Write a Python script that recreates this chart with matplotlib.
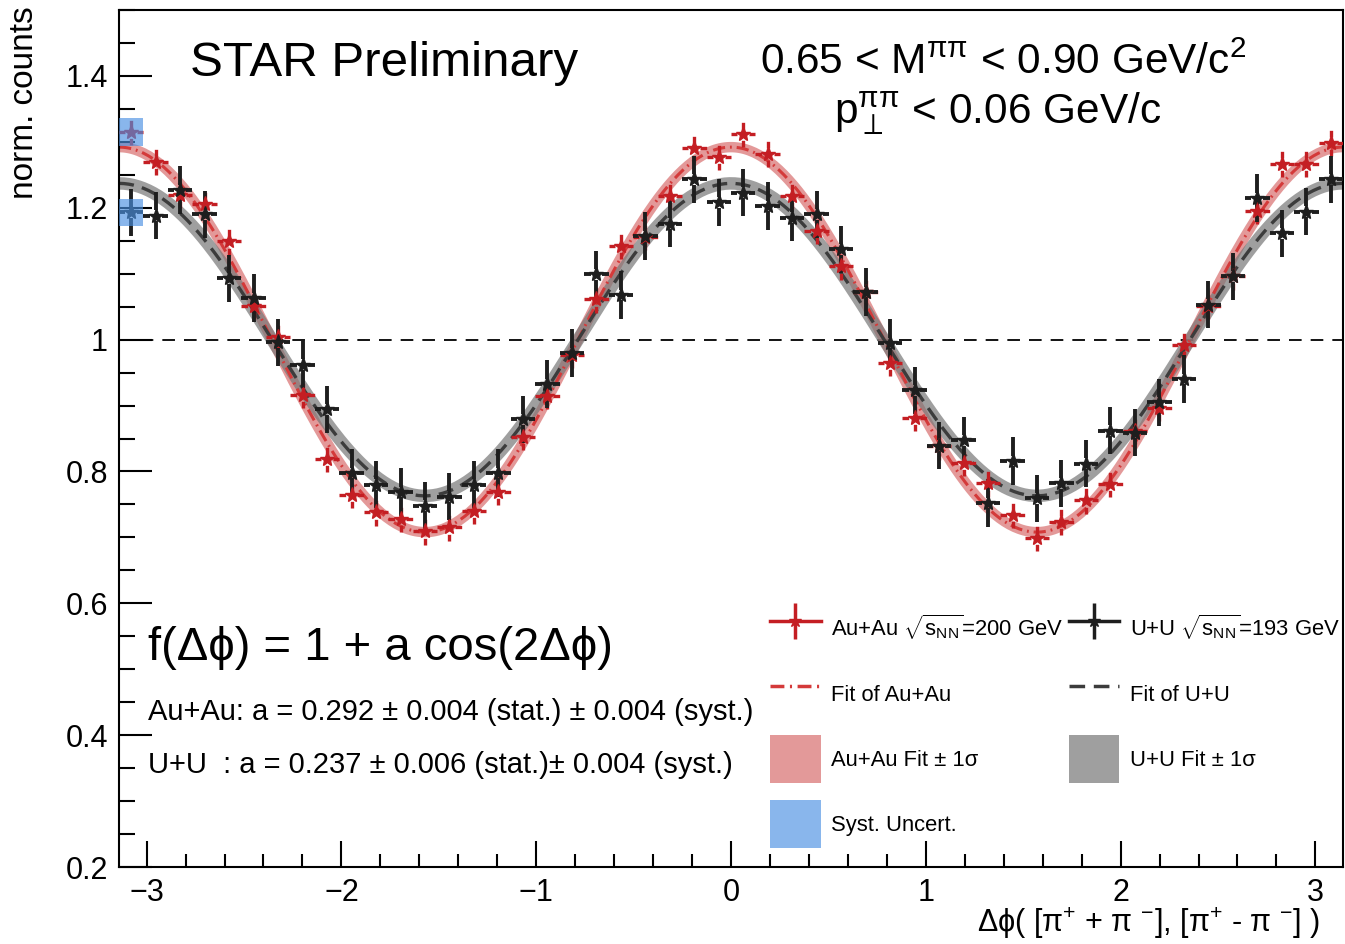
import numpy as np
import matplotlib
matplotlib.use("Agg")
import matplotlib.pyplot as plt
from matplotlib.lines import Line2D
from matplotlib.patches import Patch
from matplotlib.ticker import MultipleLocator, FuncFormatter

plt.rcParams["font.family"] = ["Liberation Sans", "DejaVu Sans"]
plt.rcParams["mathtext.fontset"] = "custom"
plt.rcParams["mathtext.rm"] = "Liberation Sans"
plt.rcParams["mathtext.it"] = "Liberation Sans:italic"
plt.rcParams["mathtext.sf"] = "Liberation Sans"

# Histogramm: 50 Bins in Delta phi von -pi bis pi
N_BINS = 50

auau_y = [1.315, 1.270, 1.220, 1.205, 1.149, 1.051, 1.004, 0.916, 0.819, 0.764,
          0.738, 0.728, 0.709, 0.715, 0.740, 0.769, 0.853, 0.914, 0.977, 1.061,
          1.142, 1.156, 1.218, 1.290, 1.277, 1.312, 1.282, 1.218, 1.165, 1.111,
          1.072, 0.965, 0.881, 0.838, 0.813, 0.782, 0.734, 0.699, 0.724, 0.756,
          0.781, 0.861, 0.896, 0.992, 1.051, 1.096, 1.195, 1.267, 1.267, 1.299]
uu_y = [1.193, 1.188, 1.227, 1.190, 1.093, 1.063, 0.996, 0.962, 0.894, 0.798,
        0.780, 0.769, 0.748, 0.762, 0.780, 0.798, 0.879, 0.933, 0.980, 1.099,
        1.068, 1.157, 1.176, 1.243, 1.208, 1.223, 1.203, 1.185, 1.190, 1.137,
        1.072, 0.995, 0.923, 0.839, 0.847, 0.752, 0.816, 0.759, 0.782, 0.812,
        0.862, 0.859, 0.905, 0.940, 1.053, 1.096, 1.215, 1.161, 1.194, 1.243]
AUAU_STAT = 0.020
UU_STAT = 0.036
# Syst.-Box nur am ersten Bin eingezeichnet
auau_syst = [0.021]
uu_syst = [0.021]

A_AUAU = 0.292
A_UU = 0.237

RED = "#c41e23"
RED_FIT = "#d43a3a"
DARK = "#1e1e1e"
DARK_FIT = "#3c3c3c"
BLUE = "#4a90e2"

edges = np.linspace(-np.pi, np.pi, N_BINS + 1)
centers = 0.5 * (edges[:-1] + edges[1:])
half_w = 0.5 * (edges[1] - edges[0])


def draw_points(ax, x, y, yerr, color, ls, lw):
    y = np.asarray(y)
    gx, gy = 0.03, 0.008  # Lücke um den Marker wie in ROOT
    kw = dict(colors=color, lw=lw, linestyles=ls, zorder=4)
    ax.vlines(x, y + gy, y + yerr, **kw)
    ax.vlines(x, y - yerr, y - gy, **kw)
    ax.hlines(y, x - half_w, x - gx, **kw)
    ax.hlines(y, x + gx, x + half_w, **kw)
    ax.plot(x, y, ls="none", marker="*", ms=11, color=color, zorder=5)


fig = plt.figure(figsize=(13.45, 9.44), dpi=100)
ax = fig.add_axes([119 / 1345, 1 - 867 / 944, 1224 / 1345, 857 / 944])

phi = np.linspace(-np.pi, np.pi, 500)
fit_auau = 1 + A_AUAU * np.cos(2 * phi)
fit_uu = 1 + A_UU * np.cos(2 * phi)

ax.plot(phi, fit_auau, lw=7.5, color="#d86e6e", alpha=0.7, solid_capstyle="butt", zorder=1)
ax.plot(phi, fit_uu, lw=9, color="#777777", alpha=0.7, solid_capstyle="butt", zorder=1)
ax.plot(phi, fit_auau, lw=2.2, color=RED_FIT, ls=(0, (4, 1.6, 0.6, 1.6)), zorder=2)
ax.plot(phi, fit_uu, lw=2.4, color=DARK_FIT, ls=(0, (4.5, 2.5)), zorder=2)

ax.axhline(1.0, color="black", lw=1.3, ls=(0, (7, 5)), zorder=0)

draw_points(ax, centers, auau_y, AUAU_STAT, RED, (0, (2, 1)), 2.4)
draw_points(ax, centers, uu_y, UU_STAT, DARK, "solid", 2.8)

for syst, vals in ((auau_syst, auau_y), (uu_syst, uu_y)):
    n = len(syst)
    ax.bar(centers[:n], 2 * np.asarray(syst), bottom=np.asarray(vals[:n]) - np.asarray(syst),
           width=2 * half_w, color=BLUE, alpha=0.65, lw=0, zorder=6)

ax.set_xlim(-np.pi, np.pi)
ax.set_ylim(0.2, 1.5)
ax.xaxis.set_major_locator(MultipleLocator(1))
ax.xaxis.set_minor_locator(MultipleLocator(0.2))
ax.yaxis.set_major_locator(MultipleLocator(0.2))
ax.yaxis.set_minor_locator(MultipleLocator(0.05))
fmt = FuncFormatter(lambda v, _: f"{v:g}".replace("-", "\u2212"))
ax.xaxis.set_major_formatter(fmt)
ax.yaxis.set_major_formatter(fmt)
ax.tick_params(which="both", direction="in", width=1.5, top=False, right=False)
ax.tick_params(axis="y", which="major", length=24, labelsize=22, pad=8)
ax.tick_params(axis="y", which="minor", length=11.5)
ax.tick_params(axis="x", which="major", length=19, labelsize=22, pad=8)
ax.tick_params(axis="x", which="minor", length=9.5)
for sp in ax.spines.values():
    sp.set_linewidth(1.5)

tA = ax.transAxes
ax.text(0.058, 0.923, "STAR Preliminary", fontsize=35.5, transform=tA)
ax.text(0.5237, 0.925, r"0.65 < M$^{\mathrm{\pi\pi}}$ < 0.90 GeV/c$^{2}$", fontsize=30.5, transform=tA)
ax.text(0.584, 0.868, r"p$_{\perp}^{\mathrm{\pi\pi}}$ < 0.06 GeV/c", fontsize=30.5, transform=tA)
ax.text(0.024, 0.242, "f(\u0394\u03d5) = 1 + a cos(2\u0394\u03d5)", fontsize=34, transform=tA)
ax.text(0.024, 0.172, "Au+Au: a = 0.292 \u00b1 0.004 (stat.) \u00b1 0.004 (syst.)", fontsize=21, transform=tA)
ax.text(0.024, 0.110, "U+U  : a = 0.237 \u00b1 0.006 (stat.)\u00b1 0.004 (syst.)", fontsize=21, transform=tA)

fig.text(25 / 1345, 1 - 6 / 944, "norm. counts", rotation=90, ha="center", va="top", fontsize=24)
fig.text(1320 / 1345, 1 - 932 / 944,
         "\u0394\u03d5( [\u03c0$^{+}$ + \u03c0 $^{-}$], [\u03c0$^{+}$ - \u03c0 $^{-}$] )",
         ha="right", va="baseline", fontsize=22)

h_auau = (Line2D([], [], color=RED, lw=2.5, marker="*", ms=9),
          Line2D([], [], color=RED, ls="none", marker="|", ms=26, mew=2.5))
h_uu = (Line2D([], [], color=DARK, lw=2.5, marker="*", ms=9),
        Line2D([], [], color=DARK, ls="none", marker="|", ms=26, mew=2.5))
h_fit_auau = Line2D([], [], color=RED_FIT, lw=2.5, ls=(0, (4, 1.6, 0.6, 1.6)))
h_fit_uu = Line2D([], [], color=DARK_FIT, lw=2.5, ls=(0, (4.5, 2.5)))
h_band_auau = Patch(facecolor="#d86e6e", alpha=0.7, lw=0)
h_band_uu = Patch(facecolor="#777777", alpha=0.7, lw=0)
h_syst = Patch(facecolor=BLUE, alpha=0.65, lw=0)

leg_kw = dict(loc="upper left", frameon=False, fontsize=15.8, handlelength=2.3, handleheight=3.0,
              handletextpad=0.5, labelspacing=0.76, borderpad=0, borderaxespad=0)
leg1 = ax.legend([h_auau, h_fit_auau, h_band_auau, h_syst],
                 [r"Au+Au $\sqrt{\mathrm{s}_{\mathrm{NN}}}$=200 GeV", "Fit of Au+Au",
                  "Au+Au Fit \u00b1 1\u03c3", "Syst. Uncert."],
                 bbox_to_anchor=(0.5319, 0.3050), **leg_kw)
ax.add_artist(leg1)
ax.legend([h_uu, h_fit_uu, h_band_uu],
          [r"U+U $\sqrt{\mathrm{s}_{\mathrm{NN}}}$=193 GeV", "Fit of U+U", "U+U Fit \u00b1 1\u03c3"],
          bbox_to_anchor=(0.7760, 0.3050), **leg_kw)

fig.savefig("out.png", dpi=100)
